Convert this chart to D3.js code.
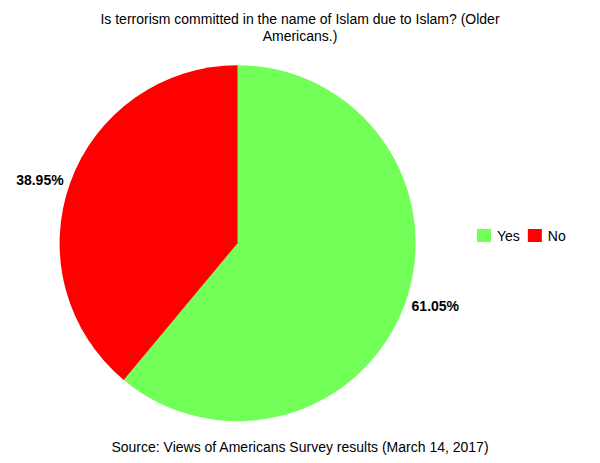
<!DOCTYPE html>
<html>
<head>
<meta charset="utf-8">
<script src="https://cdn.jsdelivr.net/npm/d3@7"></script>
<style>
  body { margin: 0; background: #fff; }
  text { font-family: "Liberation Sans", Arial, sans-serif; fill: #000; }
</style>
</head>
<body>
<div id="chart"></div>
<script>
var categories = ["Yes", "No"];
var values = [61.05, 38.95];
var colors = ["#72ff57", "#ff0000"];
var titleLines = ["Is terrorism committed in the name of Islam due to Islam? (Older", "Americans.)"];
var sourceText = "Source: Views of Americans Survey results (March 14, 2017)";

var width = 600, height = 463;
var cx = 237.6, cy = 243.2, radius = 178;

var svg = d3.select("#chart").append("svg")
  .attr("width", width)
  .attr("height", height);

// title
var title = svg.append("text")
  .attr("x", 300)
  .attr("y", 24)
  .attr("text-anchor", "middle")
  .attr("font-size", "14px");
title.selectAll("tspan")
  .data(titleLines)
  .enter().append("tspan")
    .attr("x", 300)
    .attr("dy", function(d, i) { return i == 0 ? 0 : 17; })
    .text(function(d) { return d; });

var data = categories.map(function(c, i) { return {cat: c, value: values[i], color: colors[i]}; });

var pie = d3.pie()
  .value(function(d) { return d.value; })
  .sort(null);

var arc = d3.arc().innerRadius(0).outerRadius(radius);
var labelArc = d3.arc().innerRadius(radius + 7).outerRadius(radius + 7);

var pieGroup = svg.append("g")
  .attr("transform", "translate(" + cx + "," + cy + ")");

var slices = pie(data);

pieGroup.selectAll("path")
  .data(slices)
  .enter().append("path")
    .attr("d", arc)
    .attr("fill", function(d) { return d.data.color; });

pieGroup.selectAll("text.label")
  .data(slices)
  .enter().append("text")
    .attr("class", "label")
    .attr("transform", function(d) { return "translate(" + labelArc.centroid(d) + ")"; })
    .attr("text-anchor", function(d) {
      var mid = (d.startAngle + d.endAngle) / 2;
      return mid < Math.PI ? "start" : "end";
    })
    .attr("dy", "0.35em")
    .attr("font-size", "14px")
    .attr("font-weight", "bold")
    .text(function(d) { return d.data.value.toFixed(2) + "%"; });

// legend
var legend = svg.append("g")
  .attr("transform", "translate(477,229)");
var lx = 0;
data.forEach(function(d) {
  var item = legend.append("g").attr("transform", "translate(" + lx + ",0)");
  item.append("rect")
    .attr("width", 14)
    .attr("height", 13)
    .attr("fill", d.color);
  var t = item.append("text")
    .attr("x", 20)
    .attr("y", 12)
    .attr("font-size", "14px")
    .text(d.cat);
  lx += 20 + t.node().getComputedTextLength() + 8;
});

// source
svg.append("text")
  .attr("x", 300)
  .attr("y", 452)
  .attr("text-anchor", "middle")
  .attr("font-size", "14px")
  .text(sourceText);
</script>
</body>
</html>
